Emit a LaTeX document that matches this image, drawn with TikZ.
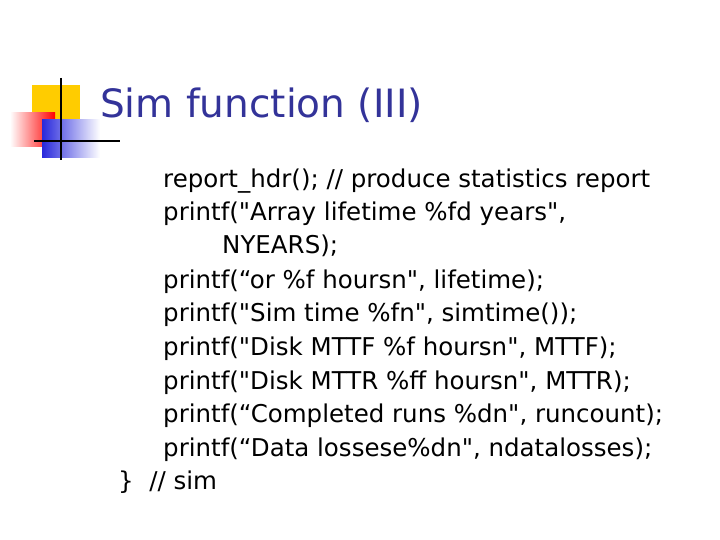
\documentclass[tikz,border=0pt]{standalone}
\usepackage{fontspec}
\newfontfamily\bodyfont{DejaVu Sans}
\definecolor{ttl}{RGB}{51,51,153}
\definecolor{yel}{RGB}{255,204,0}
\definecolor{blu}{RGB}{40,40,220}
\begin{document}
\begin{tikzpicture}[x=1pt,y=-1pt,
  body/.style={anchor=base west,inner sep=0pt,font=\bodyfont\fontsize{24.5}{28}\selectfont}]
\useasboundingbox (0,0) rectangle (720,540);
\fill[yel] (32,85) rectangle (80,120);
\shade[left color=white,right color=red] (10,113) rectangle (55,147);
\shade[left color=blu,right color=white] (42,120) rectangle (100,158);
\draw[line width=2.5pt] (61,78) -- (61,160);
\draw[line width=2.5pt] (34,141) -- (120,141);
\node[anchor=base west,inner sep=0pt,text=ttl,font=\bodyfont\fontsize{39}{44}\selectfont] (t) at (100,118) {Sim function (III)};
\node[body] (l1) at (163,188) {report\_hdr(); // produce statistics report};
\node[body] (l2) at (163,221) {printf("Array lifetime \%fd years",};
\node[body] (l3) at (222,254) {NYEARS);};
\node[body] (l4) at (163,288) {printf(“or \%f hoursn", lifetime);};
\node[body] (l5) at (163,321) {printf("Sim time \%fn", simtime());};
\node[body] (l6) at (163,355) {printf("Disk MTTF \%f hoursn", MTTF);};
\node[body] (l7) at (163,389) {printf("Disk MTTR \%ff hoursn", MTTR);};
\node[body] (l8) at (163,422) {printf(“Completed runs \%dn", runcount);};
\node[body] (l9) at (163,456) {printf(“Data lossese\%dn", ndatalosses);};
\node[body] (l10) at (118,489) {\}~~// sim};
\end{tikzpicture}
\end{document}
